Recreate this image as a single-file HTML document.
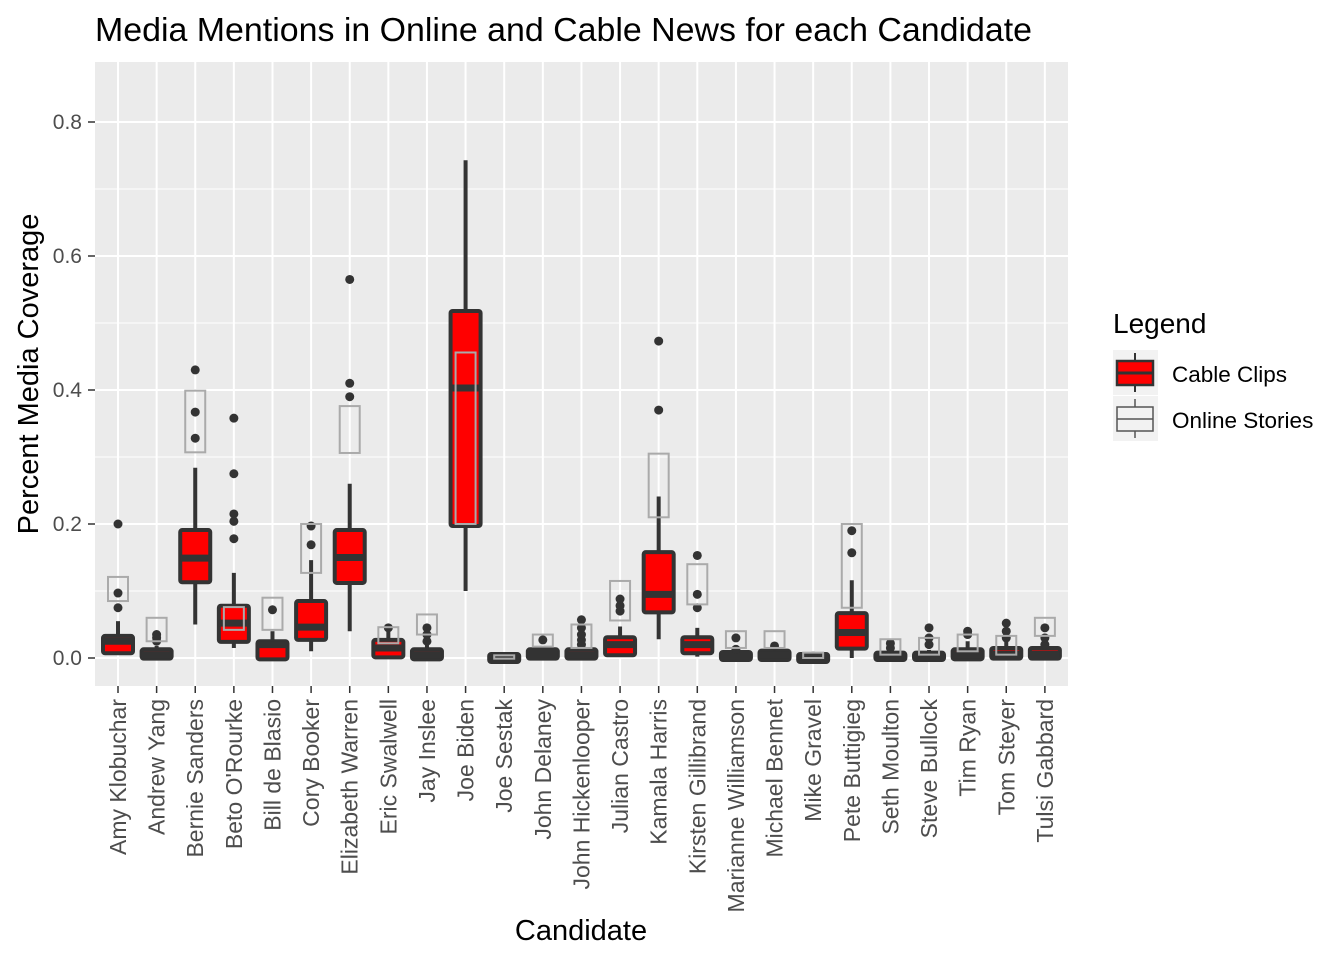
<!DOCTYPE html>
<html><head><meta charset="utf-8"><style>
body{margin:0;background:#fff;font-family:"Liberation Sans",sans-serif}
svg text{font-family:"Liberation Sans",sans-serif}
</style></head><body>
<svg id="chart" width="1344" height="960" xmlns="http://www.w3.org/2000/svg">
<rect x="0" y="0" width="1344" height="960" fill="#fff"/>
<text x="95" y="41" font-size="33" textLength="937" lengthAdjust="spacingAndGlyphs" fill="#000">Media Mentions in Online and Cable News for each Candidate</text>
<rect x="95" y="62" width="973" height="624" fill="#ebebeb"/>
<g id="grid"></g><g id="marks"></g><g id="axes"></g>
<text x="581" y="940" font-size="29" text-anchor="middle" fill="#000">Candidate</text>
<text transform="translate(38,374) rotate(-90)" font-size="29" text-anchor="middle" fill="#000">Percent Media Coverage</text>
<g>
<text x="1113" y="333" font-size="28" fill="#000">Legend</text>
<g>
<rect x="1113" y="350" width="45" height="45" fill="#f2f2f2"/>
<line x1="1135" y1="353" x2="1135" y2="392" stroke="#333" stroke-width="2"/>
<rect x="1117" y="361" width="36" height="24" fill="#ff0000" stroke="#333" stroke-width="2.5"/>
<line x1="1117" y1="373" x2="1153" y2="373" stroke="#333" stroke-width="3"/>
<text x="1172" y="382" font-size="22.5" fill="#000">Cable Clips</text></g>
<g>
<rect x="1113" y="396" width="45" height="45" fill="#f2f2f2"/>
<line x1="1135" y1="399" x2="1135" y2="438" stroke="#555" stroke-width="1.5"/>
<rect x="1117" y="407" width="36" height="24" fill="#f2f2f2" stroke="#555" stroke-width="1.5"/>
<line x1="1117" y1="419" x2="1153" y2="419" stroke="#555" stroke-width="1.5"/>
<text x="1172" y="428" font-size="22.5" fill="#000">Online Stories</text></g>
</g>
</svg>
<script>
const candidates=["Amy Klobuchar","Andrew Yang","Bernie Sanders","Beto O'Rourke","Bill de Blasio","Cory Booker","Elizabeth Warren","Eric Swalwell","Jay Inslee","Joe Biden","Joe Sestak","John Delaney","John Hickenlooper","Julian Castro","Kamala Harris","Kirsten Gillibrand","Marianne Williamson","Michael Bennet","Mike Gravel","Pete Buttigieg","Seth Moulton","Steve Bullock","Tim Ryan","Tom Steyer","Tulsi Gabbard"];
// cable clips: [lowWhisker, q1, median, q3, highWhisker]
const cableStats=[[0.005,0.01,0.025,0.03,0.055],[0,0.002,0.005,0.01,0.018],[0.05,0.116,0.149,0.188,0.284],[0.015,0.027,0.052,0.075,0.127],[0,0.001,0.02,0.022,0.04],[0.01,0.03,0.046,0.082,0.146],[0.04,0.115,0.15,0.188,0.26],[0.004,0.004,0.015,0.024,0.04],[0,0.001,0.005,0.01,0.02],[0.1,0.2,0.403,0.515,0.743],[-0.003,-0.003,0,0.003,0.003],[0,0.002,0.006,0.01,0.015],[0,0.002,0.005,0.01,0.018],[0.005,0.007,0.02,0.028,0.047],[0.028,0.071,0.095,0.155,0.241],[0.002,0.01,0.02,0.028,0.045],[0,0,0.003,0.006,0.01],[0,0,0.004,0.008,0.012],[-0.003,-0.003,0,0.003,0.003],[0,0.017,0.038,0.064,0.116],[0,0,0.002,0.005,0.01],[0,0,0.002,0.005,0.012],[0,0.001,0.005,0.01,0.025],[0,0.002,0.006,0.012,0.03],[0,0.002,0.006,0.012,0.018]];
const cableOutliers=[[0.075,0.097,0.2],[0.025,0.03,0.035],[0.328,0.367,0.43],[0.178,0.204,0.215,0.275,0.358],[0.072],[0.169,0.197],[0.39,0.41,0.565],[0.045],[0.025,0.035,0.045],[],[],[0.027],[0.02,0.027,0.035,0.045,0.057],[0.07,0.078,0.088],[0.37,0.473],[0.075,0.095,0.153],[0.013,0.03],[0.018],[0.003],[0.157,0.19],[0.015,0.022],[0.02,0.03,0.045],[0.035,0.04],[0.03,0.04,0.052],[0.02,0.03,0.045]];
// online stories: [q1, q3]
const onlineBoxes=[[0.085,0.121],[0.025,0.06],[0.307,0.399],[0.042,0.076],[0.042,0.09],[0.127,0.2],[0.306,0.376],[0.022,0.046],[0.035,0.065],[0.2,0.456],[-0.001,0.004],[0.017,0.035],[0.015,0.05],[0.056,0.115],[0.21,0.305],[0.08,0.14],[0.015,0.04],[0.015,0.04],[0,0.008],[0.075,0.2],[0.005,0.028],[0.005,0.03],[0.01,0.035],[0.005,0.033],[0.033,0.06]];
const yTicks=[0,0.2,0.4,0.6,0.8];
const yMinor=[0.1,0.3,0.5,0.7];

const NS="http://www.w3.org/2000/svg";
const yS=v=>658-v*670;
const xS=i=>118+i*38.62;
function mk(tag,attrs,parent){const e=document.createElementNS(NS,tag);for(const k in attrs)e.setAttribute(k,attrs[k]);parent.appendChild(e);return e;}
const grid=document.getElementById('grid'),marks=document.getElementById('marks'),axes=document.getElementById('axes');
yMinor.forEach(v=>{const l=mk('line',{x1:95,x2:1068,y1:yS(v),y2:yS(v),stroke:'#fff','stroke-width':1},grid);

});
yTicks.forEach(v=>{const l=mk('line',{x1:95,x2:1068,y1:yS(v),y2:yS(v),stroke:'#fff','stroke-width':2},grid);


const t=mk('text',{x:82,y:yS(v)+7,'font-size':21,'text-anchor':'end',fill:'#4d4d4d'},axes);t.textContent=v.toFixed(1);


mk('line',{x1:88,x2:95,y1:yS(v),y2:yS(v),stroke:'#333','stroke-width':1.5},axes);});
candidates.forEach((c,i)=>{const x=xS(i);
const g=mk('line',{x1:x,x2:x,y1:62,y2:686,stroke:'#fff','stroke-width':2},grid);


mk('line',{x1:x,x2:x,y1:686,y2:693,stroke:'#333','stroke-width':1.5},axes);
const t=mk('text',{transform:`translate(${x+8},699) rotate(-90)`,'font-size':23,'text-anchor':'end',fill:'#4d4d4d'},axes);t.textContent=c;


const s=cableStats[i];
const grp=mk('g',{},marks);


mk('line',{x1:x,x2:x,y1:yS(s[0]),y2:yS(s[4]),stroke:'#333','stroke-width':4},grp);
const top=yS(s[3]),bot=yS(s[1]);
mk('rect',{x:x-15,y:top-2,width:30,height:Math.max(bot-top+4,6),rx:2,fill:'#ff0000',stroke:'#333','stroke-width':4},grp);
mk('line',{x1:x-15,x2:x+15,y1:yS(s[2]),y2:yS(s[2]),stroke:'#333','stroke-width':7},grp);
cableOutliers[i].forEach(v=>{const d=mk('circle',{cx:x,cy:yS(v),r:4.5,fill:'#333'},grp);

});
});
candidates.forEach((c,i)=>{const x=xS(i);const o=onlineBoxes[i];
const r=mk('rect',{x:x-10,y:yS(o[1]),width:20,height:yS(o[0])-yS(o[1]),fill:'none',stroke:'#aaa','stroke-width':2},marks);

});
</script>
</body></html>
